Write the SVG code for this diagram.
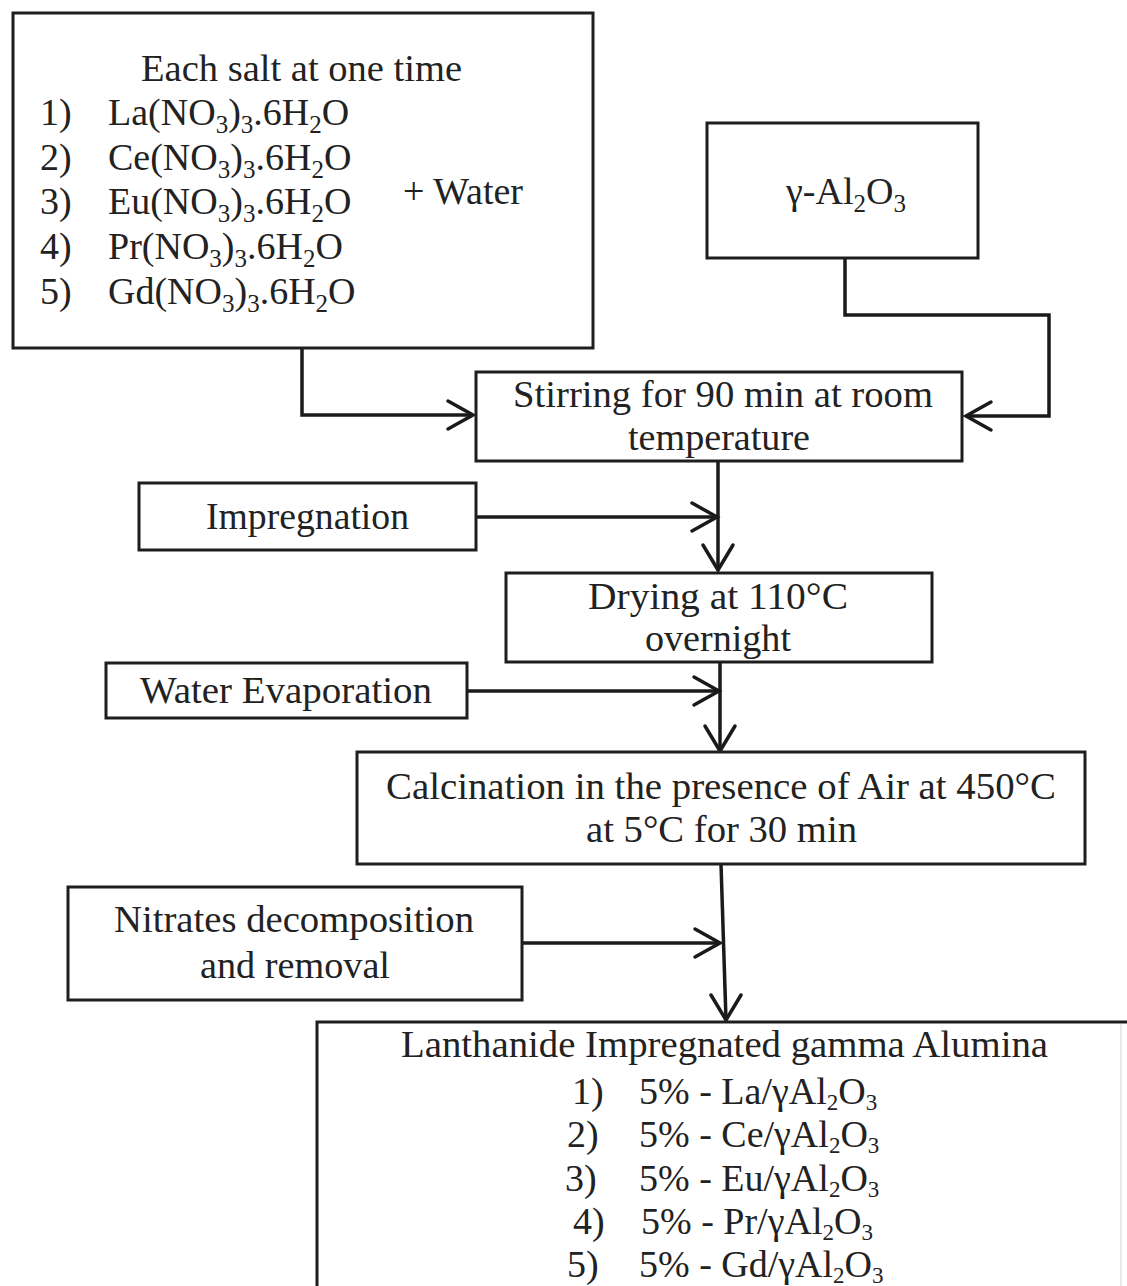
<svg xmlns="http://www.w3.org/2000/svg" width="1127" height="1286" viewBox="0 0 1127 1286">
<defs>
<style>
.box{fill:#fff;stroke:#1e1e1e;stroke-width:3}
.ln{fill:none;stroke:#1a1a1a;stroke-width:3.5}
.ah{fill:none;stroke:#1a1a1a;stroke-width:3.5;stroke-linecap:round;stroke-linejoin:miter}
text{font-family:"Liberation Serif","Times New Roman",serif;font-size:38px;fill:#222}
.sub{font-size:25px}
.sub2{font-size:23px}
</style>
</defs>
<rect width="1127" height="1286" fill="#fff"/>

<g id="connectors">
  <path class="ln" d="M302,348 V415 H473"/>
  <path class="ah" d="M448,401 L473,415 L448,429"/>
  <path class="ln" d="M845,258 V315 H1049 V416 H966"/>
  <path class="ah" d="M991,402 L966,416 L991,430"/>
  <path class="ln" d="M718,461 V570"/>
  <path class="ah" d="M703,545 L718,570 L733,545"/>
  <path class="ln" d="M476,517 H717"/>
  <path class="ah" d="M692,503 L717,517 L692,531"/>
  <path class="ln" d="M720,662 V751"/>
  <path class="ah" d="M705,726 L720,751 L735,726"/>
  <path class="ln" d="M467,691 H719"/>
  <path class="ah" d="M694,677 L719,691 L694,705"/>
  <path class="ln" d="M721,864 L726,1020"/>
  <path class="ah" d="M711,995 L726,1020 L741,995"/>
  <path class="ln" d="M522,943 H720"/>
  <path class="ah" d="M695,929 L720,943 L695,957"/>
</g>

<g id="salts">
  <rect class="box" x="13" y="13" width="580" height="335"/>
  <text x="141" y="81" textLength="321" lengthAdjust="spacingAndGlyphs">Each salt at one time</text>
  <text x="40" y="125">1)</text>
  <text x="108" y="125">La(NO<tspan class="sub" dy="8">3</tspan><tspan dy="-8">)</tspan><tspan class="sub" dy="8">3</tspan><tspan dy="-8">.6H</tspan><tspan class="sub" dy="8">2</tspan><tspan dy="-8">O</tspan></text>
  <text x="40" y="170">2)</text>
  <text x="108" y="170">Ce(NO<tspan class="sub" dy="8">3</tspan><tspan dy="-8">)</tspan><tspan class="sub" dy="8">3</tspan><tspan dy="-8">.6H</tspan><tspan class="sub" dy="8">2</tspan><tspan dy="-8">O</tspan></text>
  <text x="40" y="214">3)</text>
  <text x="108" y="214">Eu(NO<tspan class="sub" dy="8">3</tspan><tspan dy="-8">)</tspan><tspan class="sub" dy="8">3</tspan><tspan dy="-8">.6H</tspan><tspan class="sub" dy="8">2</tspan><tspan dy="-8">O</tspan></text>
  <text x="40" y="259">4)</text>
  <text x="108" y="259">Pr(NO<tspan class="sub" dy="8">3</tspan><tspan dy="-8">)</tspan><tspan class="sub" dy="8">3</tspan><tspan dy="-8">.6H</tspan><tspan class="sub" dy="8">2</tspan><tspan dy="-8">O</tspan></text>
  <text x="40" y="304">5)</text>
  <text x="108" y="304">Gd(NO<tspan class="sub" dy="8">3</tspan><tspan dy="-8">)</tspan><tspan class="sub" dy="8">3</tspan><tspan dy="-8">.6H</tspan><tspan class="sub" dy="8">2</tspan><tspan dy="-8">O</tspan></text>
  <text x="403" y="204">+ Water</text>
</g>

<g id="alumina">
  <rect class="box" x="707" y="123" width="271" height="135"/>
  <text x="786" y="204">γ-Al<tspan class="sub" dy="8">2</tspan><tspan dy="-8">O</tspan><tspan class="sub" dy="8">3</tspan></text>
</g>

<g id="stirring">
  <rect class="box" x="476" y="372" width="486" height="89"/>
  <text x="513" y="407" textLength="420" lengthAdjust="spacingAndGlyphs">Stirring for 90 min at room</text>
  <text x="628" y="450" textLength="182" lengthAdjust="spacingAndGlyphs">temperature</text>
</g>

<g id="impregnation">
  <rect class="box" x="139" y="483" width="337" height="67"/>
  <text x="206" y="529" textLength="203" lengthAdjust="spacingAndGlyphs">Impregnation</text>
</g>

<g id="drying">
  <rect class="box" x="506" y="573" width="426" height="89"/>
  <text x="588" y="609" textLength="260" lengthAdjust="spacingAndGlyphs">Drying at 110°C</text>
  <text x="645" y="651" textLength="146" lengthAdjust="spacingAndGlyphs">overnight</text>
</g>

<g id="evaporation">
  <rect class="box" x="106" y="663" width="361" height="55"/>
  <text x="140" y="703" textLength="292" lengthAdjust="spacingAndGlyphs">Water Evaporation</text>
</g>

<g id="calcination">
  <rect class="box" x="357" y="752" width="728" height="112"/>
  <text x="386" y="799" textLength="670" lengthAdjust="spacingAndGlyphs">Calcination in the presence  of Air at 450°C</text>
  <text x="586" y="842" textLength="271" lengthAdjust="spacingAndGlyphs">at 5°C for 30 min</text>
</g>

<g id="nitrates">
  <rect class="box" x="68" y="887" width="454" height="113"/>
  <text x="114" y="932" textLength="360" lengthAdjust="spacingAndGlyphs">Nitrates decomposition</text>
  <text x="200" y="978" textLength="190" lengthAdjust="spacingAndGlyphs">and removal</text>
</g>

<g id="product">
  <path class="box" d="M317,1290 V1022 H1130" fill="none"/>
  <path d="M1121,1024 V1290" stroke="#e8e8e8" stroke-width="2" fill="none"/>
  <text x="401" y="1057" textLength="647" lengthAdjust="spacingAndGlyphs">Lanthanide  Impregnated  gamma  Alumina</text>
  <text x="572" y="1104">1)</text>
  <text x="639" y="1104">5% - La/γAl<tspan class="sub2" dy="6">2</tspan><tspan dy="-6">O</tspan><tspan class="sub2" dy="6">3</tspan></text>
  <text x="567" y="1147">2)</text>
  <text x="639" y="1147">5% - Ce/γAl<tspan class="sub2" dy="6">2</tspan><tspan dy="-6">O</tspan><tspan class="sub2" dy="6">3</tspan></text>
  <text x="565" y="1191">3)</text>
  <text x="639" y="1191">5% - Eu/γAl<tspan class="sub2" dy="6">2</tspan><tspan dy="-6">O</tspan><tspan class="sub2" dy="6">3</tspan></text>
  <text x="573" y="1234">4)</text>
  <text x="641" y="1234">5% - Pr/γAl<tspan class="sub2" dy="6">2</tspan><tspan dy="-6">O</tspan><tspan class="sub2" dy="6">3</tspan></text>
  <text x="567" y="1277">5)</text>
  <text x="639" y="1277">5% - Gd/γAl<tspan class="sub2" dy="6">2</tspan><tspan dy="-6">O</tspan><tspan class="sub2" dy="6">3</tspan></text>
</g>
</svg>
